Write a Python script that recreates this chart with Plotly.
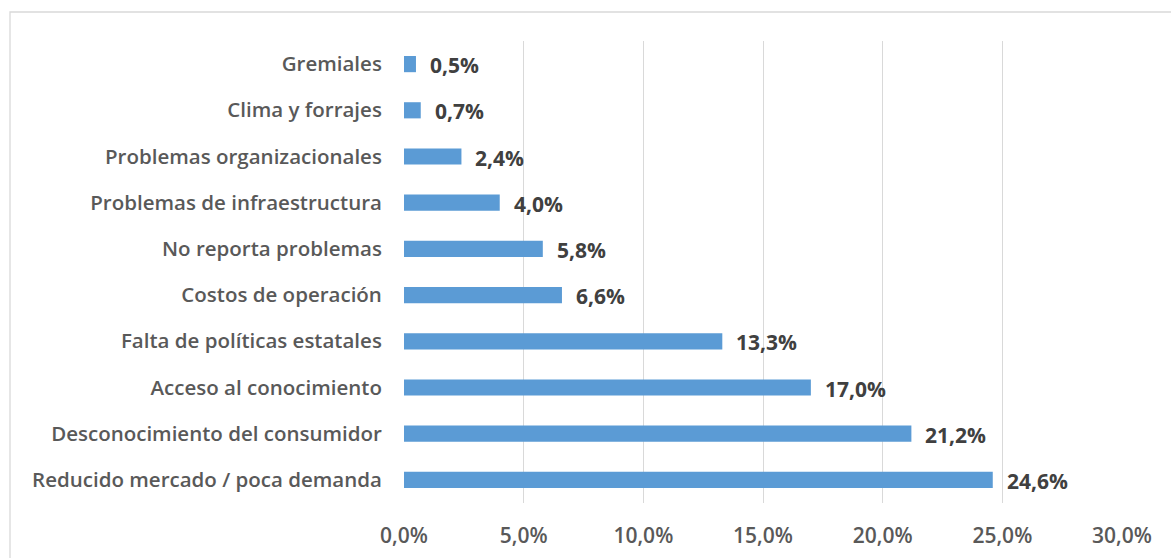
import plotly.graph_objects as go

categories = [
    "Gremiales",
    "Clima y forrajes",
    "Problemas organizacionales",
    "Problemas de infraestructura",
    "No reporta problemas",
    "Costos de operación",
    "Falta de políticas estatales",
    "Acceso al conocimiento",
    "Desconocimiento del consumidor",
    "Reducido mercado / poca demanda",
]
values = [0.5, 0.7, 2.4, 4.0, 5.8, 6.6, 13.3, 17.0, 21.2, 24.6]
x_ticks = [0, 5, 10, 15, 20, 25, 30]

FONT = "Open Sans"
LABEL_GRAY = "#595959"
VALUE_GRAY = "#404040"

def pct(v):
    return f"{v:.1f}%".replace(".", ",")

fig = go.Figure(
    go.Bar(
        x=values,
        y=categories,
        orientation="h",
        marker=dict(color="#5b9bd5", line=dict(width=0)),
        width=0.35,
        hoverinfo="skip",
    )
)

for c, v in zip(categories, values):
    fig.add_annotation(
        x=v, y=c, xref="x", yref="y",
        text=pct(v), showarrow=False,
        xanchor="left", xshift=12, yshift=-1,
        font=dict(family=FONT, size=21, color=VALUE_GRAY, weight=700),
    )

W, H = 1171, 558
ml, mr, mt, mb = 404, 49, 41, 55
pw, ph = W - ml - mr, H - mt - mb

# chart frame (left and top edges fall inside the page)
fig.add_shape(
    type="rect", xref="paper", yref="paper",
    x0=(10 - ml) / pw, x1=(W + 20 - ml) / pw,
    y0=-(mb + 20) / ph, y1=1 + (mt - 12) / ph,
    line=dict(color="#d9d9d9", width=1.3),
    layer="below",
)

fig.update_layout(
    width=W, height=H,
    margin=dict(l=ml, r=mr, t=mt, b=mb, autoexpand=False),
    paper_bgcolor="white", plot_bgcolor="white",
    showlegend=False,
    xaxis=dict(
        range=[0, 30],
        tickvals=x_ticks,
        ticktext=[pct(t) for t in x_ticks],
        showgrid=True, gridcolor="#d9d9d9", gridwidth=1,
        zeroline=False, showline=False,
        ticks="outside", ticklen=14, tickcolor="rgba(0,0,0,0)",
        tickfont=dict(family=FONT, size=21, color=LABEL_GRAY, weight=600),
        automargin=False,
        fixedrange=True,
    ),
    yaxis=dict(
        categoryorder="array", categoryarray=categories,
        autorange="reversed",
        showgrid=False, zeroline=False, showline=False,
        ticks="outside", ticklen=17, tickcolor="rgba(0,0,0,0)",
        tickfont=dict(family=FONT, size=20.5, color=LABEL_GRAY, weight=600),
        automargin=False,
        fixedrange=True,
    ),
)

fig.write_html("out.html")
